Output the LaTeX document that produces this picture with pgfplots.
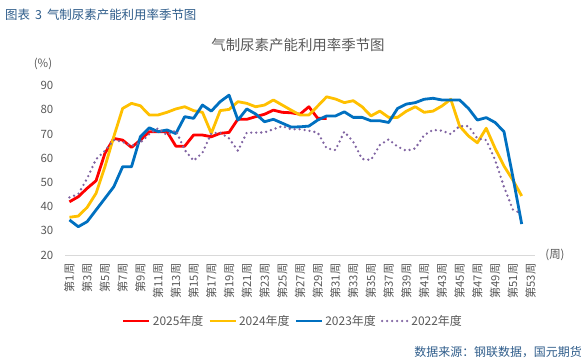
\documentclass[border=0pt]{standalone}
\usepackage{fontspec}
\setmainfont{Noto Sans CJK SC}
\usepackage{pgfplots}
\pgfplotsset{compat=1.18}
\definecolor{c25}{RGB}{255,0,0}
\definecolor{c24}{RGB}{255,192,0}
\definecolor{c23}{RGB}{0,112,192}
\definecolor{c22}{RGB}{128,100,162}
\definecolor{txt}{RGB}{89,89,89}
\definecolor{cap}{RGB}{46,92,138}
\definecolor{axl}{RGB}{217,217,217}
\begin{document}
\begin{tikzpicture}[x=1bp,y=1bp]
\useasboundingbox (0,0) rectangle (585,362);
\node[anchor=west, text=cap, font=\fontsize{12.5}{14}\selectfont, inner sep=0] at (5,347) {图表\hspace{5bp}3\hspace{5bp}气制尿素产能利用率季节图};
\node[text=txt, font=\fontsize{14.5}{16}\selectfont, inner sep=0] at (298,317) {气制尿素产能利用率季节图};
\node[text=txt, font=\fontsize{11.5}{13}\selectfont, inner sep=0] at (43,298) {(\%)};
\node[text=txt, font=\fontsize{11.5}{13}\selectfont, inner sep=0] at (555,107) {(周)};
\node[anchor=east, text=cap, font=\fontsize{12}{14}\selectfont, inner sep=0] at (582,10) {数据来源：钢联数据，国元期货};
\begin{axis}[
  at={(65bp,107bp)}, anchor=south west,
  scale only axis, width=470bp, height=169.3bp,
  xmin=0.5, xmax=53.5, ymin=20, ymax=90,
  ytick={20,30,...,90},
  xtick={1,3,...,53},
  xticklabels={第1周,第3周,第5周,第7周,第9周,第11周,第13周,第15周,第17周,第19周,第21周,第23周,第25周,第27周,第29周,第31周,第33周,第35周,第37周,第39周,第41周,第43周,第45周,第47周,第49周,第51周,第53周},
  axis lines=left,
  axis line style={-},
  y axis line style={draw=none},
  x axis line style={draw=axl, line width=1bp},
  tick style={draw=none},
  /pgf/number format/assume math mode=true,
  yticklabel style={font=\fontsize{11.5}{13}\selectfont, text=txt},
  xticklabel style={rotate=90, anchor=east, font=\fontsize{11.3}{12}\selectfont, text=txt},
  xticklabel shift=3bp,
  yticklabel shift=6bp,
  clip=false,
  legend columns=4,
  legend style={at={(0.485,-0.39)}, anchor=center, draw=none, fill=none,
    font=\fontsize{12}{14}\selectfont, text=txt,
    /tikz/every even column/.append style={column sep=3bp}},
  legend image code/.code={\draw[#1] (0bp,0bp) -- (26bp,0bp);},
  every axis plot/.append style={line width=2.8bp, line join=round},
]
\addplot[c25] coordinates {(1,42.0)(2,44.1)(3,47.6)(4,50.7)(5,62.0)(6,68.2)(7,67.5)(8,64.5)(9,67.5)(10,71.0)(11,71.0)(12,71.0)(13,65.0)(14,65.0)(15,69.6)(16,69.6)(17,68.9)(18,70.3)(19,70.7)(20,76.2)(21,76.1)(22,77.2)(23,78.2)(24,79.9)(25,79.0)(26,78.8)(27,78.2)(28,81.3)(29,76.5)(30,76.5)};
\addlegendentry{2025年度}
\addplot[c24] coordinates {(1,35.6)(2,36.1)(3,39.7)(4,45.5)(5,56.5)(6,68.9)(7,80.6)(8,82.7)(9,81.7)(10,77.9)(11,77.9)(12,79.0)(13,80.4)(14,81.3)(15,79.7)(16,79.0)(17,70.3)(18,79.7)(19,80.2)(20,83.4)(21,82.7)(22,81.3)(23,82.0)(24,84.1)(25,82.0)(26,79.9)(27,77.9)(28,77.9)(29,81.6)(30,85.4)(31,84.5)(32,83.0)(33,83.8)(34,81.3)(35,77.5)(36,79.5)(37,76.9)(38,76.9)(39,79.5)(40,81.3)(41,79.0)(42,79.5)(43,81.6)(44,84.4)(45,73.3)(46,69.2)(47,66.4)(48,72.4)(49,64.1)(50,56.8)(51,51.0)(52,44.4)};
\addlegendentry{2024年度}
\addplot[c23] coordinates {(1,34.5)(2,31.7)(3,33.8)(4,38.6)(5,43.4)(6,48.2)(7,56.5)(8,56.5)(9,68.9)(10,72.6)(11,71.0)(12,71.7)(13,70.2)(14,77.2)(15,76.5)(16,82.0)(17,79.5)(18,83.4)(19,86.1)(20,75.8)(21,80.4)(22,78.3)(23,75.1)(24,76.1)(25,74.5)(26,72.9)(27,73.0)(28,73.3)(29,75.8)(30,77.5)(31,77.5)(32,79.2)(33,76.9)(34,76.9)(35,75.5)(36,75.5)(37,74.8)(38,80.6)(39,82.4)(40,83.0)(41,84.4)(42,84.8)(43,84.1)(44,84.1)(45,84.1)(46,80.6)(47,75.8)(48,76.8)(49,74.8)(50,71.0)(51,52.4)(52,32.8)};
\addlegendentry{2023年度}
\addplot[c22, line cap=round, dash pattern=on 0bp off 5bp, line width=2.6bp] coordinates {(1,43.8)(2,45.2)(3,51.7)(4,59.6)(5,63.1)(6,67.5)(7,66.8)(8,65.1)(9,66.4)(10,70.0)(11,72.4)(12,69.6)(13,71.5)(14,63.4)(15,59.0)(16,62.3)(17,70.3)(18,70.6)(19,68.2)(20,63.1)(21,70.6)(22,70.6)(23,70.7)(24,72.0)(25,73.3)(26,72.0)(27,72.0)(28,71.4)(29,70.6)(30,64.1)(31,63.4)(32,71.0)(33,66.8)(34,59.7)(35,59.3)(36,65.5)(37,67.8)(38,64.8)(39,63.1)(40,64.1)(41,69.6)(42,71.7)(43,71.4)(44,70.0)(45,73.3)(46,73.3)(47,68.2)(48,67.5)(49,59.3)(50,48.2)(51,38.8)(52,37.0)};
\addlegendentry{2022年度}
\end{axis}
\end{tikzpicture}
\end{document}
